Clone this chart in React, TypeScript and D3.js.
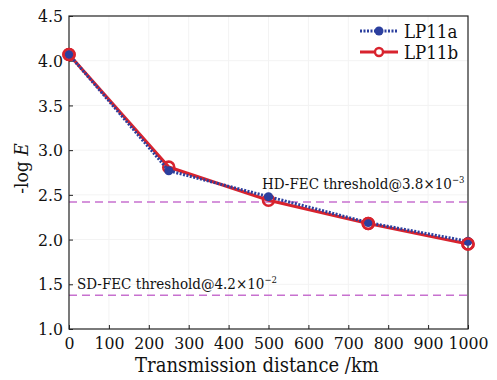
import React, { useEffect, useRef } from "react";
import * as d3 from "d3";

const distances = [0, 250, 500, 750, 1000];
const lp11a = [4.07, 2.77, 2.48, 2.19, 1.98];
const lp11b = [4.07, 2.81, 2.44, 2.18, 1.95];
const xTicks = [0, 100, 200, 300, 400, 500, 600, 700, 800, 900, 1000];
const yTicks = [1.0, 1.5, 2.0, 2.5, 3.0, 3.5, 4.0, 4.5];
const hdFec = 3.8e-3;
const sdFec = 4.2e-2;

const W = 497;
const H = 380;
const M = { left: 69, right: 29, top: 16, bottom: 51 };
const FONT = "'DejaVu Serif', serif";
const BLUE = "#2b3f9e";
const RED = "#d8232e";
const PINK = "#c771cf";

export default function App() {
  const ref = useRef<SVGSVGElement>(null);

  useEffect(() => {
    const svg = d3.select(ref.current);
    svg.selectAll("*").remove();

    const x = d3.scaleLinear().domain([0, 1000]).range([M.left, W - M.right]);
    const y = d3.scaleLinear().domain([1, 4.5]).range([H - M.bottom, M.top]);
    const g = svg.append("g");

    // faint grid
    g.selectAll(".gx").data(xTicks.slice(1, -1)).enter().append("line")
      .attr("x1", (d) => x(d)).attr("x2", (d) => x(d))
      .attr("y1", y(1)).attr("y2", y(4.5))
      .attr("stroke", "#f3f3f3").attr("stroke-width", 1);
    g.selectAll(".gy").data(yTicks.slice(1, -1)).enter().append("line")
      .attr("y1", (d) => y(d)).attr("y2", (d) => y(d))
      .attr("x1", x(0)).attr("x2", x(1000))
      .attr("stroke", "#f3f3f3").attr("stroke-width", 1);

    // threshold lines
    const thresholds = [
      { v: -Math.log10(hdFec), label: "HD-FEC threshold@3.8\u00d710", exp: "\u22123", tx: 262, dy: -13 },
      { v: -Math.log10(sdFec), label: "SD-FEC threshold@4.2\u00d710", exp: "\u22122", tx: 77, dy: -6 },
    ];
    thresholds.forEach((t) => {
      g.append("line")
        .attr("x1", x(0)).attr("x2", x(1000))
        .attr("y1", y(t.v)).attr("y2", y(t.v))
        .attr("stroke", PINK).attr("stroke-width", 1.6)
        .attr("stroke-dasharray", "8,5");
      const txt = g.append("text")
        .attr("x", t.tx).attr("y", y(t.v) + t.dy)
        .attr("font-family", FONT).attr("font-size", 15)
        .attr("font-stretch", "condensed")
        .attr("fill", "#111");
      txt.append("tspan").text(t.label);
      txt.append("tspan").attr("font-size", 9.5).attr("dy", -6).text(t.exp);
    });

    // axes frame
    g.append("rect")
      .attr("x", x(0)).attr("y", y(4.5))
      .attr("width", x(1000) - x(0)).attr("height", y(1) - y(4.5))
      .attr("fill", "none").attr("stroke", "#222").attr("stroke-width", 1.2);

    const xAxis = d3.axisBottom(x).tickValues(xTicks).tickSize(-4).tickPadding(8).tickFormat(d3.format("d"));
    const yAxis = d3.axisLeft(y).tickValues(yTicks).tickSize(-4).tickPadding(6).tickFormat(d3.format(".1f"));

    const ax = g.append("g").attr("transform", `translate(0,${y(1)})`).call(xAxis);
    const ay = g.append("g").attr("transform", `translate(${x(0)},0)`).call(yAxis);
    [ax, ay].forEach((a) => {
      a.select(".domain").remove();
      a.selectAll("line").attr("stroke", "#222").attr("stroke-width", 1);
      a.selectAll("text")
        .attr("font-family", FONT).attr("font-size", 17.5)
        .attr("font-stretch", "condensed").attr("fill", "#111");
    });

    // series lines
    const line = d3.line<number>().x((_, i) => x(distances[i])).y((d) => y(d));

    g.append("path").datum(lp11b).attr("d", line)
      .attr("fill", "none").attr("stroke", RED).attr("stroke-width", 3.2);
    g.selectAll(".mb").data(lp11b).enter().append("circle")
      .attr("cx", (_, i) => x(distances[i])).attr("cy", (d) => y(d))
      .attr("r", 5.5).attr("fill", "none").attr("stroke", RED).attr("stroke-width", 2.6);

    g.append("path").datum(lp11a).attr("d", line)
      .attr("fill", "none").attr("stroke", BLUE).attr("stroke-width", 3)
      .attr("stroke-dasharray", "2,1.5");
    g.selectAll(".ma").data(lp11a).enter().append("circle")
      .attr("cx", (_, i) => x(distances[i])).attr("cy", (d) => y(d))
      .attr("r", 4.5).attr("fill", BLUE);

    // red rings on top where the two series coincide
    g.selectAll(".mb2").data(lp11b).enter().append("circle")
      .attr("cx", (_, i) => x(distances[i])).attr("cy", (d) => y(d))
      .attr("r", 5.5).attr("fill", "none").attr("stroke", RED).attr("stroke-width", 2.6)
      .attr("opacity", (_, i) => (i === 0 || i >= 3 ? 1 : 0));

    // legend
    const legend = [
      { name: "LP11a", color: BLUE, dashed: true, filled: true, yy: 31 },
      { name: "LP11b", color: RED, dashed: false, filled: false, yy: 52 },
    ];
    legend.forEach((l) => {
      g.append("line")
        .attr("x1", 360).attr("x2", 398).attr("y1", l.yy).attr("y2", l.yy)
        .attr("stroke", l.color).attr("stroke-width", 3)
        .attr("stroke-dasharray", l.dashed ? "2,1.5" : null);
      g.append("circle")
        .attr("cx", 379).attr("cy", l.yy).attr("r", l.filled ? 4.5 : 4)
        .attr("fill", l.filled ? l.color : "white")
        .attr("stroke", l.filled ? "none" : l.color).attr("stroke-width", 2.4);
      g.append("text")
        .attr("x", 404).attr("y", l.yy + 7)
        .attr("font-family", FONT).attr("font-size", 18.5)
        .attr("font-stretch", "condensed").attr("fill", "#111")
        .text(l.name);
    });

    // axis titles
    g.append("text")
      .attr("x", 257).attr("y", 372)
      .attr("text-anchor", "middle")
      .attr("font-family", FONT).attr("font-size", 20)
      .attr("font-stretch", "condensed").attr("fill", "#111")
      .text("Transmission distance /km");

    const yt = g.append("text")
      .attr("transform", `translate(28,${(y(1) + y(4.5)) / 2 - 4}) rotate(-90)`)
      .attr("text-anchor", "middle")
      .attr("font-family", FONT).attr("font-size", 19)
      .attr("font-stretch", "condensed").attr("fill", "#111");
    yt.append("tspan").text("-log ");
    yt.append("tspan").attr("font-style", "italic").text("E");
  }, []);

  return (
    <svg
      ref={ref}
      width={W}
      height={H}
      style={{ position: "absolute", left: 0, top: 0, background: "white" }}
    />
  );
}
